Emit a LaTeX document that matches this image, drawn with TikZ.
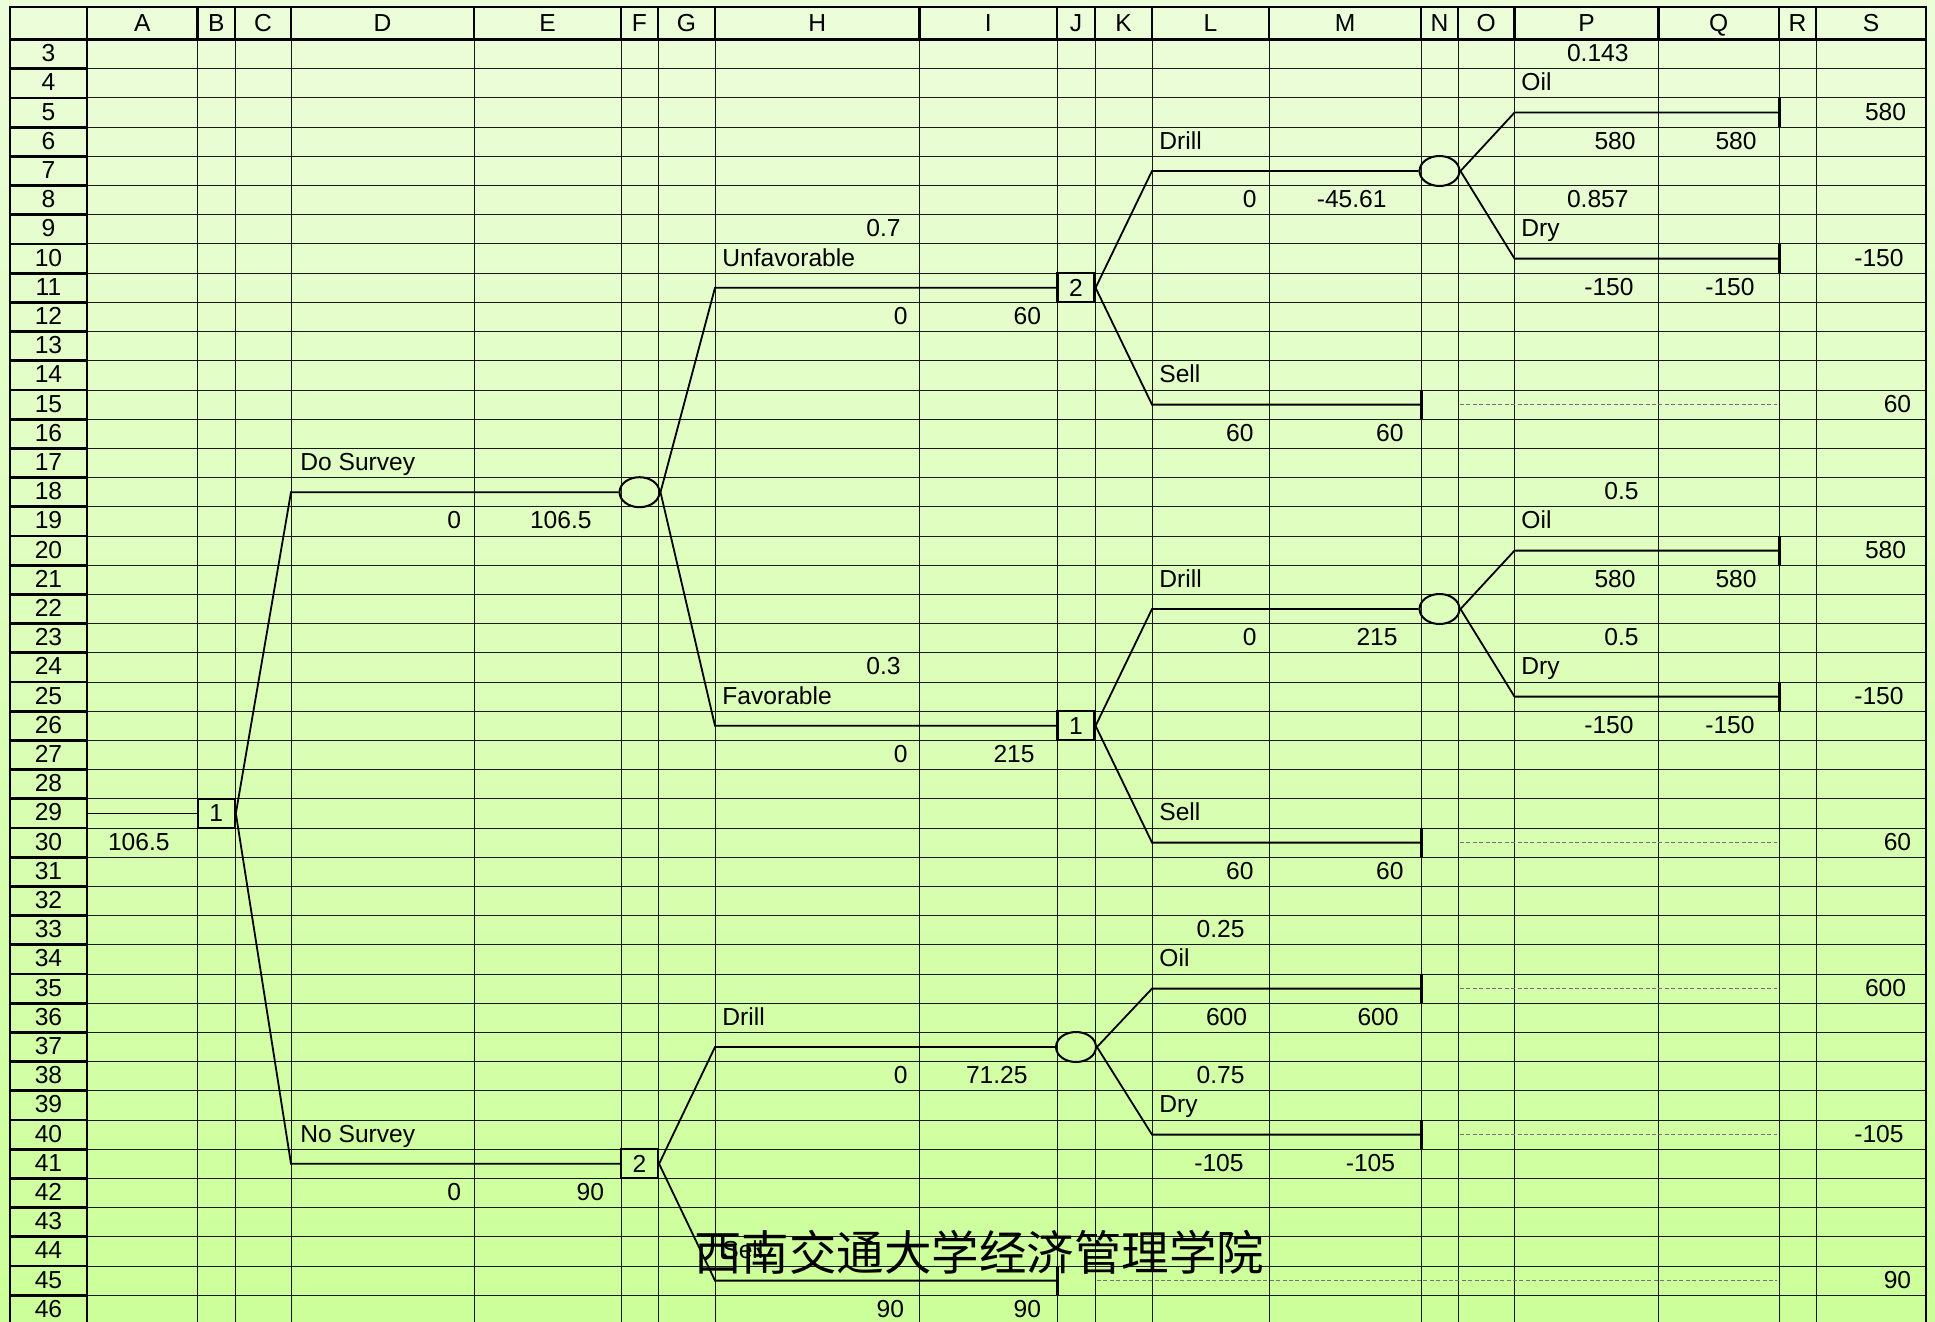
\documentclass[tikz,border=0pt]{standalone}
\usepackage{fontspec}
\setmainfont{Liberation Sans}
\newfontfamily\cjk{Noto Sans CJK SC}
\definecolor{SheetTop}{HTML}{ECFDDA}
\definecolor{SheetBottom}{HTML}{CCFF99}
\usetikzlibrary{shapes.geometric}

\begin{document}
\begin{tikzpicture}[x=0.5pt,y=-0.5pt,
    declare function={rc(\r)=29.2*\r-33.4; rb(\r)=29.2*\r-25.9; rt(\r)=29.2*\r-48;},
    cell/.style={font=\fontsize{12.3}{14}\selectfont,inner sep=0pt},
    lab/.style={cell,anchor=base west},
    val/.style={cell,anchor=base east},
    grid/.style={black!90,line width=0.5pt},
    frame/.style={black,line width=1.4pt},
    branch/.style={black,line width=0.9pt},
    endtick/.style={black,line width=1.5pt},
    lead/.style={black!55,line width=0.3pt,dash pattern=on 2pt off 1.2pt},
    decision/.style={cell,draw,line width=1.1pt,minimum width=18.5pt,minimum height=14.5pt},
    chance/.style={ellipse,draw,line width=1pt,minimum width=20pt,minimum height=15pt,inner sep=0pt}]
  % sheet background
  \shade[top color=SheetTop,bottom color=SheetBottom] (0,0) rectangle (1935,1322);
  \useasboundingbox (0,0) rectangle (1935,1322);
  % grid
  \foreach \r in {4,...,46}
    \draw[grid] (87,{rt(\r)}) -- (1926,{rt(\r)});
  \foreach \x in {197.5,235,291,474,621,658,715,919.5,1057,1095,1152,1269,1421,1458,1514.5,1658.5,1779,1816}{
    \draw[grid] (\x,39.6) -- (\x,1322);
    \draw[frame] (\x,7) -- (\x,39.6);
  }
  \foreach \r in {4,...,46}
    \draw[frame] (10,{rt(\r)}) -- (87,{rt(\r)});
  \draw[frame] (10,1322) -- (10,7) -- (1926,7) -- (1926,1322);
  \draw[frame] (10,39.6) -- (1926,39.6);
  \draw[frame] (87,7) -- (87,1322);
  % headers
  \foreach \l/\x in {A/142.25,B/216.25,C/263,D/382.5,E/547.5,F/639.5,G/686.5,H/817.25,I/988.25,
      J/1076,K/1123.5,L/1210.5,M/1345,N/1439.5,O/1486.25,P/1586.5,Q/1718.75,R/1797.5,S/1871}
    \node[cell,anchor=base] (h\l) at (\x,31.5) {\l};
  \foreach \r in {3,...,46}
    \node[cell,anchor=base] (n\r) at (48.5,{rb(\r)}) {\r};

  % nodes of the tree
  \node[decision] (d1) at (216.25,{rc(29)}) {1};
  \node[chance] (c1) at (639.5,{rc(18)}) {};
  \node[decision] (d2) at (1076,{rc(11)}) {2};
  \node[decision] (d3) at (1076,{rc(26)}) {1};
  \node[chance] (c2) at (1439.5,{rc(7)}) {};
  \node[chance] (c3) at (1439.5,{rc(22)}) {};
  \node[decision] (d4) at (639.5,{rc(41)}) {2};
  \node[chance] (c4) at (1076,{rc(37)}) {};

  \coordinate (root) at (87,{rc(29)});
  \coordinate (b1) at (291,{rc(18)});
  \coordinate (b2) at (291,{rc(41)});
  \coordinate (b3) at (715,{rc(11)});
  \coordinate (b4) at (715,{rc(26)});
  \coordinate (b5) at (1152,{rc(7)});
  \coordinate (b6) at (1152,{rc(15)});
  \coordinate (t6) at (1421,{rc(15)});
  \coordinate (b7) at (1514.5,{rc(5)});
  \coordinate (t7) at (1779,{rc(5)});
  \coordinate (b8) at (1514.5,{rc(10)});
  \coordinate (t8) at (1779,{rc(10)});
  \coordinate (b9) at (1152,{rc(22)});
  \coordinate (b10) at (1152,{rc(30)});
  \coordinate (t10) at (1421,{rc(30)});
  \coordinate (b11) at (1514.5,{rc(20)});
  \coordinate (t11) at (1779,{rc(20)});
  \coordinate (b12) at (1514.5,{rc(25)});
  \coordinate (t12) at (1779,{rc(25)});
  \coordinate (b13) at (715,{rc(37)});
  \coordinate (b14) at (715,{rc(45)});
  \coordinate (t14) at (1057,{rc(45)});
  \coordinate (b15) at (1152,{rc(35)});
  \coordinate (t15) at (1421,{rc(35)});
  \coordinate (b16) at (1152,{rc(40)});
  \coordinate (t16) at (1421,{rc(40)});

  % branches
  \draw[branch] (root) -- (d1.west);
  \draw[branch] (d1.east) -- (b1) -- (c1.west);
  \draw[branch] (d1.east) -- (b2) -- (d4.west);
  \draw[branch] (c1.east) -- (b3) -- (d2.west);
  \draw[branch] (c1.east) -- (b4) -- (d3.west);
  \draw[branch] (d2.east) -- (b5) -- (c2.west);
  \draw[branch] (d2.east) -- (b6) -- (t6);
  \draw[branch] (c2.east) -- (b7) -- (t7);
  \draw[branch] (c2.east) -- (b8) -- (t8);
  \draw[branch] (d3.east) -- (b9) -- (c3.west);
  \draw[branch] (d3.east) -- (b10) -- (t10);
  \draw[branch] (c3.east) -- (b11) -- (t11);
  \draw[branch] (c3.east) -- (b12) -- (t12);
  \draw[branch] (d4.east) -- (b13) -- (c4.west);
  \draw[branch] (d4.east) -- (b14) -- (t14);
  \draw[branch] (c4.east) -- (b15) -- (t15);
  \draw[branch] (c4.east) -- (b16) -- (t16);
  % end points
  \foreach \t in {t6,t7,t8,t10,t11,t12,t14,t15,t16}
    \draw[endtick] (\t) ++(0,-14.6) -- ++(0,29.2);
  \foreach \r in {15,30,35,40}
    \draw[lead] (1460,{rc(\r)}) -- (1777,{rc(\r)});
  \draw[lead] (1097,{rc(45)}) -- (1777,{rc(45)});

  % labels and values
  \node[val] (v1) at (170,{rb(30)}) {106.5};
  \node[lab] (l1) at (300,{rb(17)}) {Do Survey};
  \node[val] (v2) at (461.5,{rb(19)}) {0};
  \node[val] (v3) at (592,{rb(19)}) {106.5};
  \node[lab] (l2) at (300,{rb(40)}) {No Survey};
  \node[val] (v4) at (461.5,{rb(42)}) {0};
  \node[val] (v5) at (604.5,{rb(42)}) {90};

  \node[val] (p1) at (901,{rb(9)}) {0.7};
  \node[lab] (l3) at (722,{rb(10)}) {Unfavorable};
  \node[val] (v6) at (908,{rb(12)}) {0};
  \node[val] (v7) at (1041.5,{rb(12)}) {60};
  \node[val] (p2) at (901,{rb(24)}) {0.3};
  \node[lab] (l4) at (722,{rb(25)}) {Favorable};
  \node[val] (v8) at (908,{rb(27)}) {0};
  \node[val] (v9) at (1035,{rb(27)}) {215};
  \node[lab] (l5) at (722,{rb(36)}) {Drill};
  \node[val] (v10) at (908,{rb(38)}) {0};
  \node[val] (v11) at (1028,{rb(38)}) {71.25};
  \node[lab] (l6) at (722,{rb(44)}) {Sell};
  \node[val] (v12) at (904.5,{rb(46)}) {90};
  \node[val] (v13) at (1041.5,{rb(46)}) {90};

  \node[lab] (l7) at (1159,{rb(6)}) {Drill};
  \node[val] (v14) at (1257,{rb(8)}) {0};
  \node[val] (v15) at (1387,{rb(8)}) {-45.61};
  \node[lab] (l8) at (1159,{rb(14)}) {Sell};
  \node[val] (v16) at (1254,{rb(16)}) {60};
  \node[val] (v17) at (1404,{rb(16)}) {60};
  \node[lab] (l9) at (1159,{rb(21)}) {Drill};
  \node[val] (v18) at (1257,{rb(23)}) {0};
  \node[val] (v19) at (1398,{rb(23)}) {215};
  \node[lab] (l10) at (1159,{rb(29)}) {Sell};
  \node[val] (v20) at (1254,{rb(31)}) {60};
  \node[val] (v21) at (1404,{rb(31)}) {60};
  \node[val] (p3) at (1245,{rb(33)}) {0.25};
  \node[lab] (l11) at (1159,{rb(34)}) {Oil};
  \node[val] (v22) at (1247.5,{rb(36)}) {600};
  \node[val] (v23) at (1399,{rb(36)}) {600};
  \node[val] (p4) at (1245,{rb(38)}) {0.75};
  \node[lab] (l12) at (1159,{rb(39)}) {Dry};
  \node[val] (v24) at (1244,{rb(41)}) {-105};
  \node[val] (v25) at (1395.5,{rb(41)}) {-105};

  \node[val] (p5) at (1629,{rb(3)}) {0.143};
  \node[lab] (l13) at (1521,{rb(4)}) {Oil};
  \node[val] (v26) at (1636,{rb(6)}) {580};
  \node[val] (v27) at (1757,{rb(6)}) {580};
  \node[val] (p6) at (1629,{rb(8)}) {0.857};
  \node[lab] (l14) at (1521,{rb(9)}) {Dry};
  \node[val] (v28) at (1634,{rb(11)}) {-150};
  \node[val] (v29) at (1755,{rb(11)}) {-150};
  \node[val] (p7) at (1639,{rb(18)}) {0.5};
  \node[lab] (l15) at (1521,{rb(19)}) {Oil};
  \node[val] (v30) at (1636,{rb(21)}) {580};
  \node[val] (v31) at (1757,{rb(21)}) {580};
  \node[val] (p8) at (1639,{rb(23)}) {0.5};
  \node[lab] (l16) at (1521,{rb(24)}) {Dry};
  \node[val] (v32) at (1634,{rb(26)}) {-150};
  \node[val] (v33) at (1755,{rb(26)}) {-150};

  % payoffs in column S
  \foreach \r/\v/\x in {5/580/1906.5,10/-150/1904,15/60/1911.5,20/580/1906.5,25/-150/1904,
      30/60/1911.5,35/600/1906.5,40/-105/1904,45/90/1911.5}
    \node[val] (s\r) at (\x,{rb(\r)}) {\v};

  % watermark
  \node[font=\cjk\fontsize{23.75}{28}\selectfont,inner sep=0pt,anchor=west] (wm) at (694,1252)
    {西南交通大学经济管理学院};
\end{tikzpicture}
\end{document}
